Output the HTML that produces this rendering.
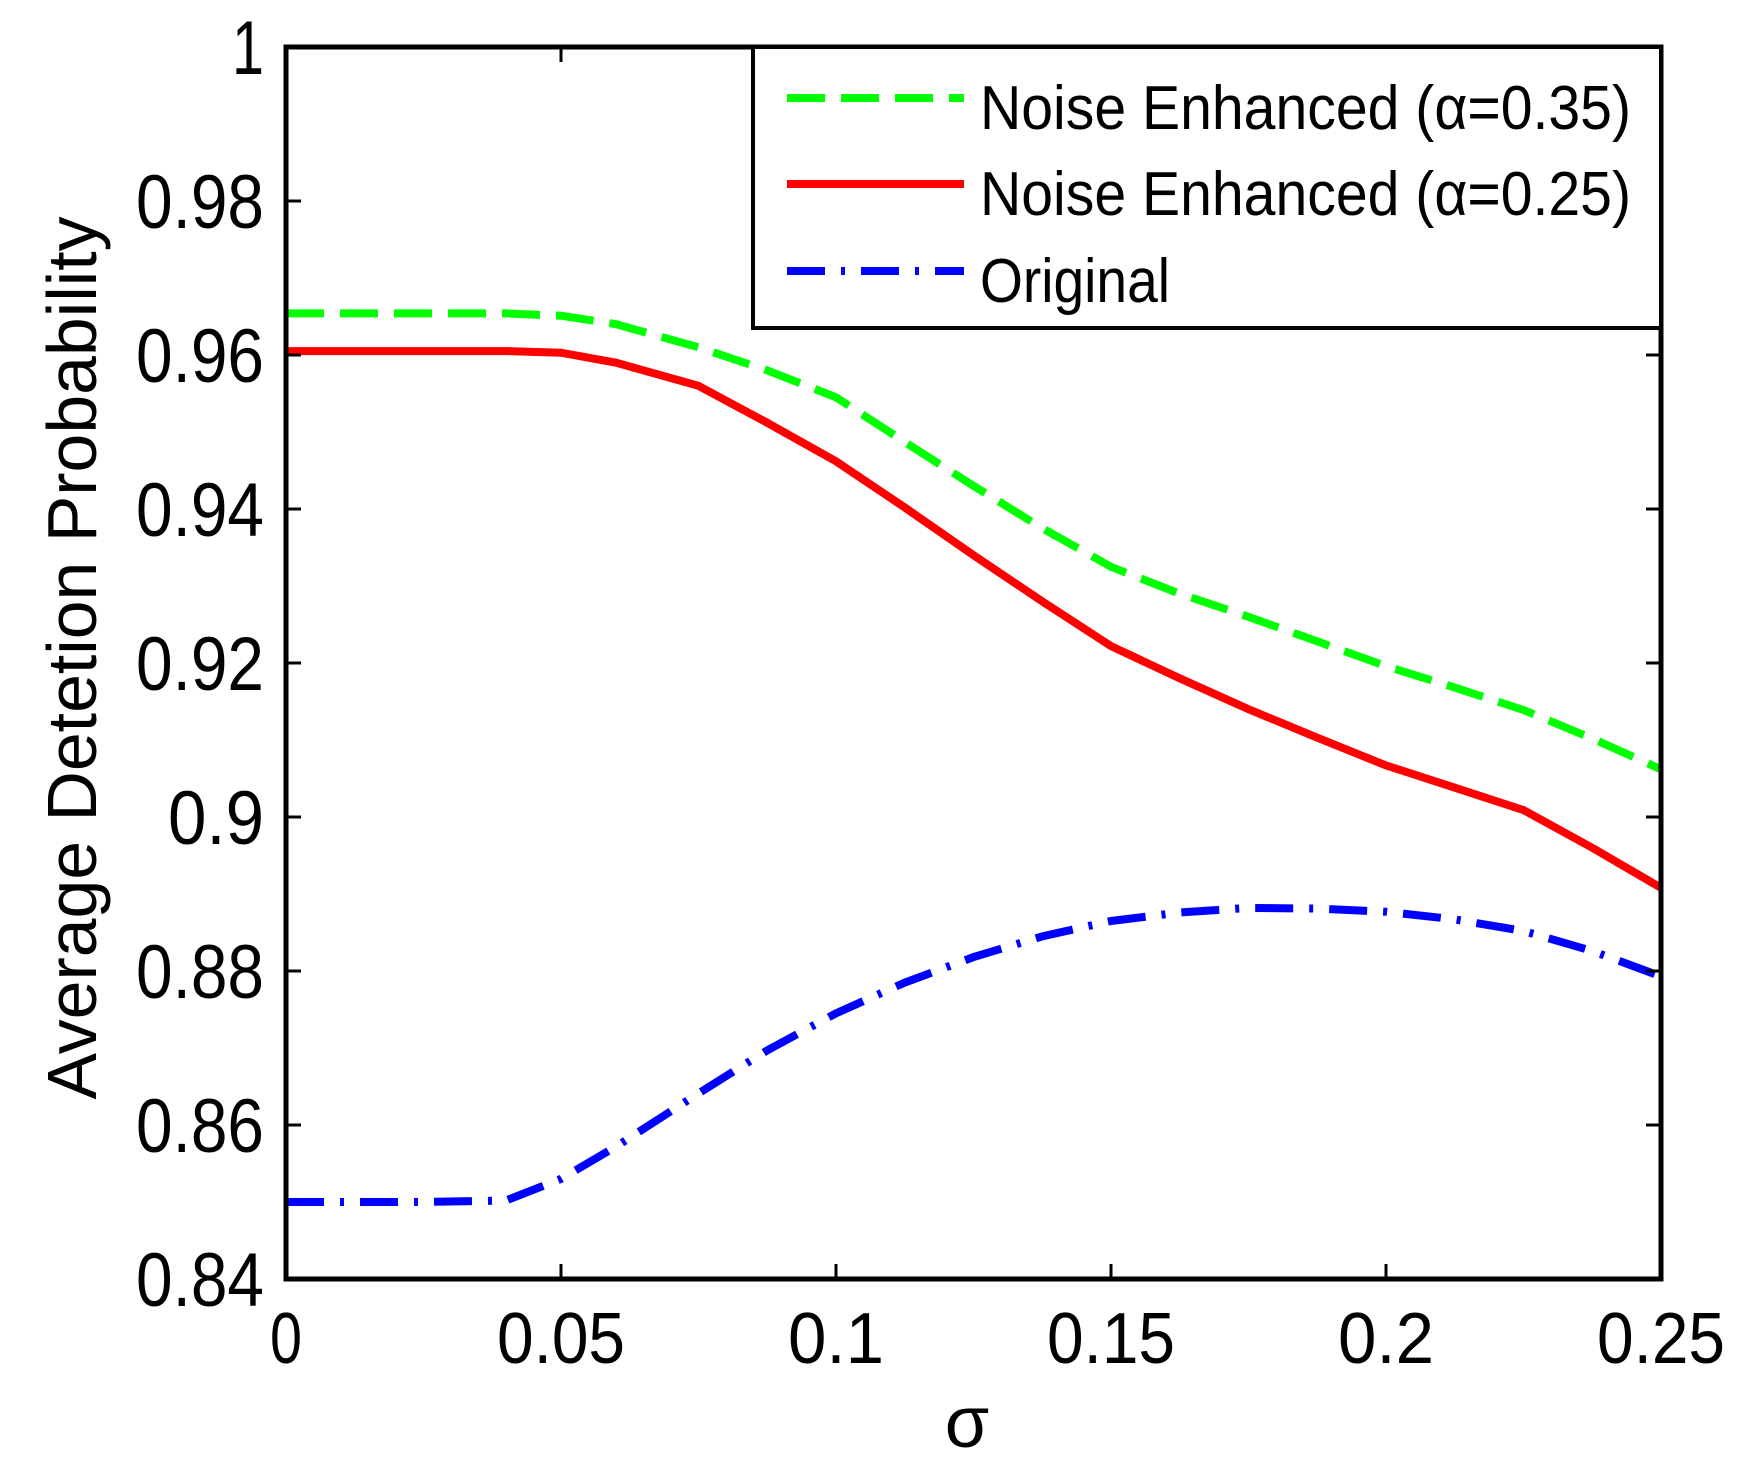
<!DOCTYPE html>
<html><head><meta charset="utf-8"><style>
html,body{margin:0;padding:0;background:#fff}
svg{display:block}
text{font-family:"Liberation Sans",sans-serif;fill:#000}
</style></head><body>
<svg id="chart" width="1741" height="1462" viewBox="0 0 1741 1462" xmlns="http://www.w3.org/2000/svg">
<rect x="0" y="0" width="1741" height="1462" fill="#fff"/>
<g id="marks"></g>
<g id="axes"></g>
<g id="legend"></g>
</svg>
<script>
const xTicks=[0,0.05,0.1,0.15,0.2,0.25];
const xTickLabels=["0","0.05","0.1","0.15","0.2","0.25"];
const yTicks=[0.84,0.86,0.88,0.9,0.92,0.94,0.96,0.98,1];
const yTickLabels=["0.84","0.86","0.88","0.9","0.92","0.94","0.96","0.98","1"];
const sigma=[0,0.025,0.04,0.05,0.06,0.075,0.0875,0.1,0.1125,0.125,0.1375,0.15,0.1625,0.175,0.1875,0.2,0.2125,0.225,0.2375,0.25];
const enhanced35=[0.9654,0.9654,0.9654,0.9651,0.9640,0.9610,0.9580,0.9545,0.9487,0.9430,0.9375,0.9325,0.9290,0.9260,0.9228,0.9196,0.9168,0.9139,0.9102,0.9062];
const enhanced25=[0.9605,0.9605,0.9605,0.9603,0.9590,0.9560,0.9512,0.9462,0.9402,0.9340,0.9280,0.9222,0.9180,0.9140,0.9103,0.9067,0.9038,0.9009,0.8960,0.8908];
const original=[0.8500,0.8500,0.8502,0.8530,0.8572,0.8641,0.8697,0.8745,0.8785,0.8818,0.8845,0.8865,0.8876,0.8882,0.8881,0.8877,0.8867,0.8852,0.8826,0.8793];
const L=286,R=1661,T=47,B=1279;
const xs=v=>L+(v-0)/(0.25-0)*(R-L);
const ys=v=>B-(v-0.84)/(1-0.84)*(B-T);
const NS="http://www.w3.org/2000/svg";
function mk(tag,attrs,parent){const e=document.createElementNS(NS,tag);for(const k in attrs)e.setAttribute(k,attrs[k]);parent.appendChild(e);return e;}
const marks=document.getElementById('marks'),axes=document.getElementById('axes'),legend=document.getElementById('legend');
const series=[
 {vals:enhanced35,color:"#00ff00",dash:"38 16",name:"series-noise-enhanced-035"},
 {vals:enhanced25,color:"#ff0000",dash:"",name:"series-noise-enhanced-025"},
 {vals:original,color:"#0000ff",dash:"38 16 4 16",name:"series-original"}];
series.forEach(s=>{
 const pts=sigma.map((x,i)=>xs(x).toFixed(1)+","+ys(s.vals[i]).toFixed(1)).join(" ");
 const p=mk('polyline',{points:pts,fill:"none",stroke:s.color,"stroke-width":8,"stroke-dasharray":s.dash},marks);
 
 
});
const box=mk('rect',{x:L,y:T,width:R-L,height:B-T,fill:"none",stroke:"#000","stroke-width":5},axes);


xTicks.forEach((v,i)=>{
 const x=xs(v);
 mk('line',{x1:x,y1:B,x2:x,y2:B-15,stroke:"#000","stroke-width":3},axes);
 mk('line',{x1:x,y1:T,x2:x,y2:T+15,stroke:"#000","stroke-width":3},axes);
 const lab=xTickLabels[i];
 const t=mk('text',{x:x,y:1363,"font-size":72,"text-anchor":"middle",textLength:lab.length*32,lengthAdjust:"spacingAndGlyphs"},axes);
 t.textContent=lab;
 
 
});
yTicks.forEach((v,i)=>{
 const y=ys(v);
 mk('line',{x1:L,y1:y,x2:L+15,y2:y,stroke:"#000","stroke-width":3},axes);
 mk('line',{x1:R,y1:y,x2:R-15,y2:y,stroke:"#000","stroke-width":3},axes);
 const lab=yTickLabels[i];
 const t=mk('text',{x:264,y:y+27,"font-size":76,"text-anchor":"end",textLength:lab.length*32,lengthAdjust:"spacingAndGlyphs"},axes);
 t.textContent=lab;
 
 
});
const yl=mk('text',{x:0,y:0,"font-size":70,"text-anchor":"middle",transform:"translate(96,658) rotate(-90)",textLength:883,lengthAdjust:"spacingAndGlyphs"},axes);
yl.textContent="Average Detetion Probability";


const xl=mk('text',{x:967,y:1447,"font-size":72,"text-anchor":"middle"},axes);
xl.textContent="σ";


const lb=mk('rect',{x:753,y:47,width:908,height:281,fill:"#fff",stroke:"#000","stroke-width":4},legend);


const legNames=["Noise Enhanced (α=0.35)","Noise Enhanced (α=0.25)","Original"];
const legY=[98,184,271];
const legW=[651,651,190];
series.forEach((s,i)=>{
 const l=mk('line',{x1:787,y1:legY[i],x2:964,y2:legY[i],stroke:s.color,"stroke-width":8,"stroke-dasharray":s.dash},legend);
 
 
 const t=mk('text',{x:980,y:legY[i]+31,"font-size":62,textLength:legW[i],lengthAdjust:"spacingAndGlyphs"},legend);
 t.textContent=legNames[i];
 
 
});
</script>
</body></html>
